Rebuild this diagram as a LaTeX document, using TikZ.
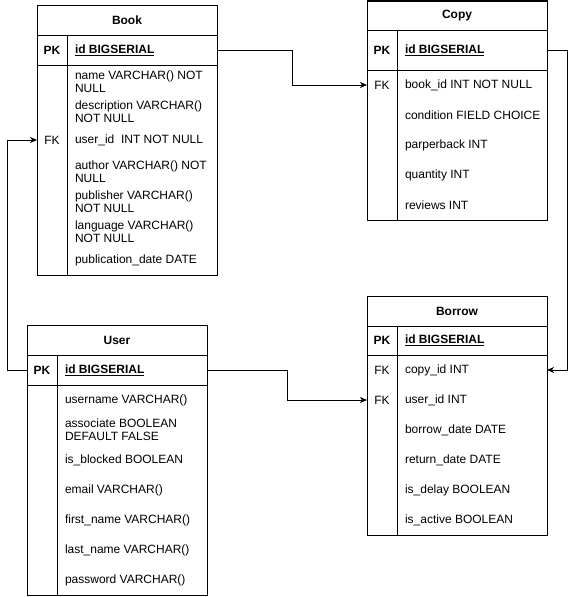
\documentclass[tikz,border=0pt]{standalone}
\usepackage{fontspec}
\setmainfont{Liberation Sans}
\usetikzlibrary{arrows.meta}
\begin{document}
\begin{tikzpicture}[x=1pt,y=-1pt,
  every node/.style={font=\fontsize{12}{13}\selectfont, inner sep=0pt, outer sep=0pt},
  cell/.style={draw, line width=1pt, anchor=north west, minimum width=180pt},
  keylbl/.style={anchor=center},
  fld/.style={anchor=west, align=left},
  conn/.style={line width=1pt, -{Stealth[length=7pt,width=6pt,inset=2pt]}},
  div/.style={line width=1pt}
]
\useasboundingbox (0,0) rectangle (576,597);

% ---------------- Book ----------------
\node[cell, minimum height=30pt] (booktitle) at (37,5) {\bfseries Book};
\node[cell, minimum height=30pt] (bookpk) at (37,35) {};
\node[cell, minimum height=210pt] (bookbody) at (37,65) {};
\draw[div] (67,35) -- (67,275);
\node[keylbl] (bookpkk) at (52,50) {\bfseries PK};
\node[fld] (bookid) at (75,50) {\bfseries\underline{id BIGSERIAL}};
\node[fld] (bookname) at (75,81.5) {name VARCHAR() NOT\\NULL};
\node[fld] (bookdesc) at (75,111.5) {description VARCHAR()\\NOT NULL};
\node[keylbl] (bookfkk) at (52,140) {FK};
\node[fld] (bookuser) at (75,140) {user\_id\ \ INT NOT NULL};
\node[fld] (bookauthor) at (75,171.5) {author VARCHAR() NOT\\NULL};
\node[fld] (bookpub) at (75,201.5) {publisher VARCHAR()\\NOT NULL};
\node[fld] (booklang) at (75,231.5) {language VARCHAR()\\NOT NULL};
\node[fld] (bookdate) at (75,260) {publication\_date DATE};
\coordinate (bookfk) at (37,140);

% ---------------- Copy ----------------
\node[cell, minimum height=29pt] (copytitle) at (367,1) {\bfseries Copy};
\node[cell, minimum height=40pt] (copypk) at (367,30) {};
\node[cell, minimum height=150pt] (copybody) at (367,70) {};
\draw[div] (397,30) -- (397,220);
\node[keylbl] (copypkk) at (382,50) {\bfseries PK};
\node[fld] (copyid) at (405,50) {\bfseries\underline{id BIGSERIAL}};
\node[keylbl] (copyfkk) at (382,85) {FK};
\node[fld] (copybook) at (405,85) {book\_id INT NOT NULL};
\node[fld] (copycond) at (405,115) {condition FIELD CHOICE};
\node[fld] (copypaper) at (405,145) {parperback INT};
\node[fld] (copyqty) at (405,175) {quantity INT};
\node[fld] (copyrev) at (405,205) {reviews INT};
\coordinate (copyfk) at (367,85);

% ---------------- Borrow ----------------
\node[cell, minimum height=30pt] (borrowtitle) at (367,296) {\bfseries Borrow};
\node[cell, minimum height=29pt] (borrowpk) at (367,326) {};
\node[cell, minimum height=180pt] (borrowbody) at (367,355) {};
\draw[div] (397,326) -- (397,535);
\node[keylbl] (borrowpkk) at (382,340.5) {\bfseries PK};
\node[fld] (borrowid) at (405,340.5) {\bfseries\underline{id BIGSERIAL}};
\node[keylbl] (borrowfk1) at (382,370) {FK};
\node[fld] (borrowcopy) at (405,370) {copy\_id INT};
\node[keylbl] (borrowfk2) at (382,400) {FK};
\node[fld] (borrowuser) at (405,400) {user\_id INT};
\node[fld] (borrowdate) at (405,430) {borrow\_date DATE};
\node[fld] (borrowret) at (405,460) {return\_date DATE};
\node[fld] (borrowdelay) at (405,490) {is\_delay BOOLEAN};
\node[fld] (borrowactive) at (405,520) {is\_active BOOLEAN};
\coordinate (borrowcopyfk) at (547,370);
\coordinate (borrowuserfk) at (367,400);

% ---------------- User ----------------
\node[cell, minimum height=30pt] (usertitle) at (27,325) {\bfseries User};
\node[cell, minimum height=30pt] (userpk) at (27,355) {};
\node[cell, minimum height=210pt] (userbody) at (27,385) {};
\draw[div] (57,355) -- (57,595);
\node[keylbl] (userpkk) at (42,370) {\bfseries PK};
\node[fld] (userid) at (65,370) {\bfseries\underline{id BIGSERIAL}};
\node[fld] (username) at (65,400) {username VARCHAR()};
\node[fld] (userassoc) at (65,430) {associate BOOLEAN\\DEFAULT FALSE};
\node[fld] (userblocked) at (65,460) {is\_blocked BOOLEAN};
\node[fld] (useremail) at (65,490) {email VARCHAR()};
\node[fld] (userfirst) at (65,520) {first\_name VARCHAR()};
\node[fld] (userlast) at (65,550) {last\_name VARCHAR()};
\node[fld] (userpass) at (65,580) {password VARCHAR()};

% ---------------- Relations ----------------
\draw[conn] (bookpk.east) -- ++(75,0) |- (copyfk);
\draw[conn] (userpk.west) -- ++(-20,0) |- (bookfk);
\draw[conn] (userpk.east) -- ++(80,0) |- (borrowuserfk);
\draw[conn] (copypk.east) -- ++(20,0) |- (borrowcopyfk);
\end{tikzpicture}
\end{document}
